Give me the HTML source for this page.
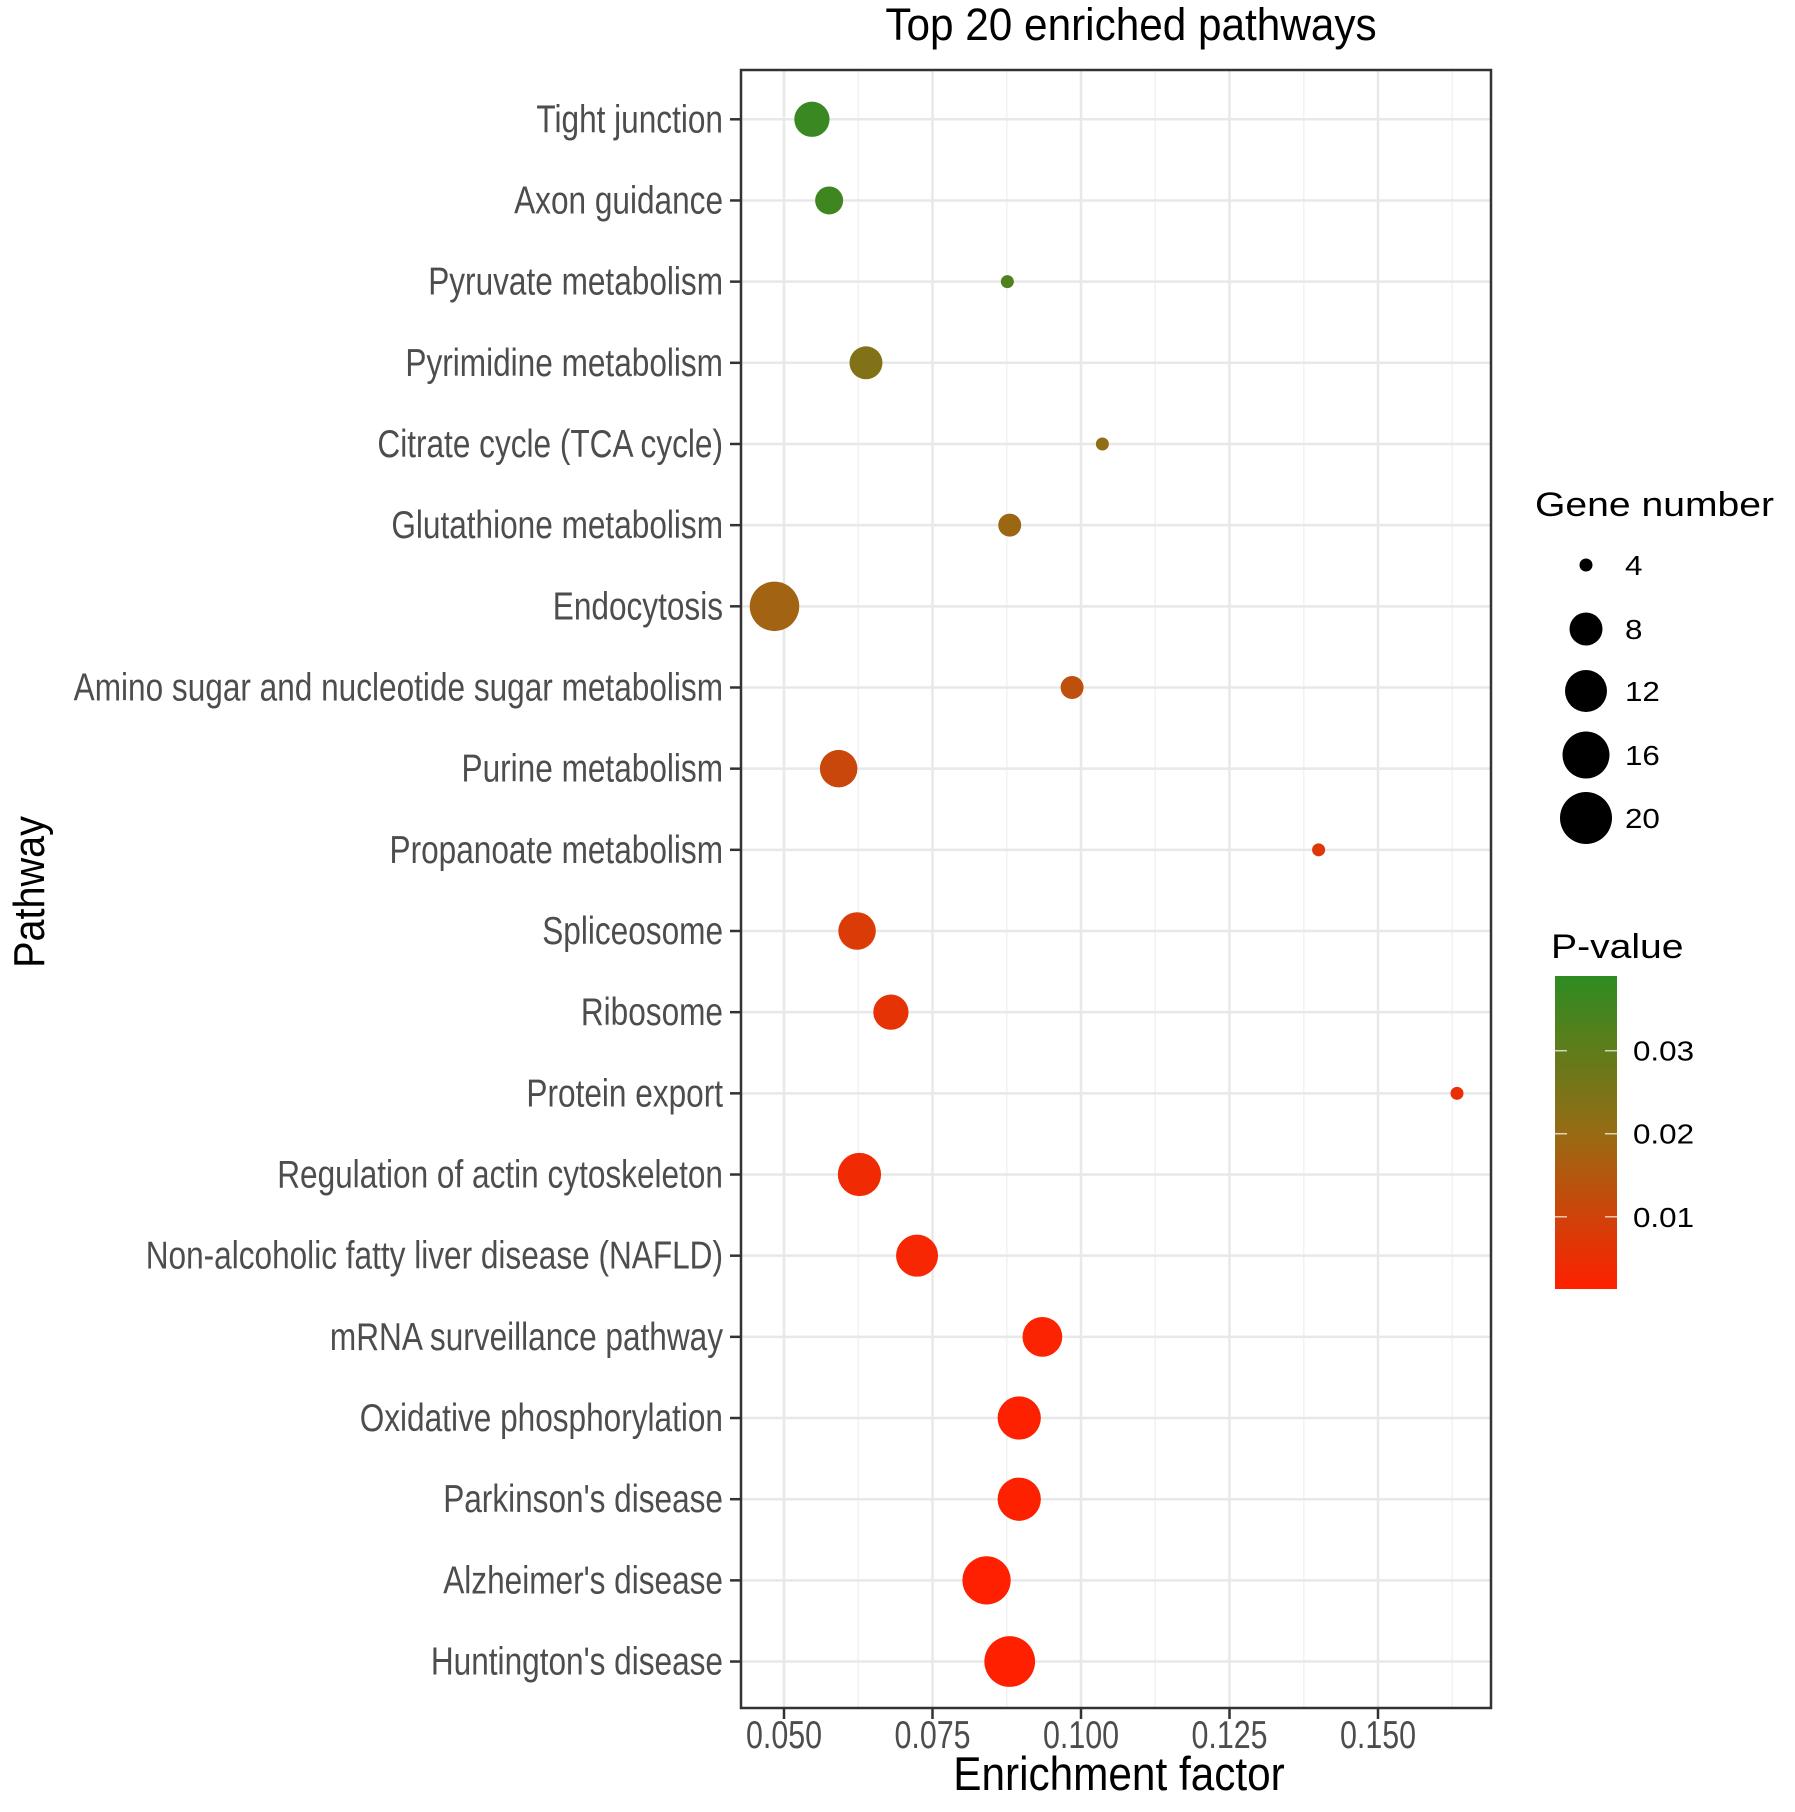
<!DOCTYPE html>
<html><head><meta charset="utf-8"><style>
html,body{margin:0;padding:0;background:#fff;}
svg{display:block;font-family:"Liberation Sans",Arial,sans-serif;}
</style></head><body>
<svg id="chart" width="1795" height="1812" viewBox="0 0 1795 1812">
<rect x="0" y="0" width="1795" height="1812" fill="#fff"/>
<g id="grid"></g>
<g id="points"></g>
<g id="axes"></g>
<g id="legend"></g>
</svg>
<script>
const pathways = ["Tight junction","Axon guidance","Pyruvate metabolism","Pyrimidine metabolism","Citrate cycle (TCA cycle)","Glutathione metabolism","Endocytosis","Amino sugar and nucleotide sugar metabolism","Purine metabolism","Propanoate metabolism","Spliceosome","Ribosome","Protein export","Regulation of actin cytoskeleton","Non-alcoholic fatty liver disease (NAFLD)","mRNA surveillance pathway","Oxidative phosphorylation","Parkinson's disease","Alzheimer's disease","Huntington's disease"];
const enrichment = [0.0547,0.0576,0.0876,0.0638,0.1036,0.0880,0.0484,0.0985,0.0592,0.1400,0.0623,0.0680,0.1633,0.0627,0.0724,0.0935,0.0896,0.0896,0.0841,0.0880];
const geneNumber = [9,7,4,8,4,6,18,6,10,4,10,9,4,13,12,11,13,13,17,19];
const pValue = [0.037,0.036,0.033,0.024,0.021,0.019,0.018,0.013,0.011,0.007,0.008,0.006,0.005,0.004,0.003,0.002,0.0015,0.0015,0.0014,0.0013];
const xTicks = [0.050,0.075,0.100,0.125,0.150];
const xTickLabels = ["0.050","0.075","0.100","0.125","0.150"];
const sizeBreaks = [4,8,12,16,20];
const pBreaks = [0.03,0.02,0.01];
const pBreakLabels = ["0.03","0.02","0.01"];

const NS="http://www.w3.org/2000/svg";
const P={l:741,r:1491,t:70,b:1708};
const xScale=v=>784+(v-0.05)/0.025*148.5;
const yScale=i=>119.3+i*81.17;
const keyR=[6.5,16.5,21,23.5,26];
function rScale(n){
  if(n<=sizeBreaks[0])return keyR[0]*Math.sqrt(n/sizeBreaks[0]);
  for(let i=0;i<sizeBreaks.length-1;i++){
    if(n<=sizeBreaks[i+1]){const t=(n-sizeBreaks[i])/(sizeBreaks[i+1]-sizeBreaks[i]);return keyR[i]+t*(keyR[i+1]-keyR[i]);}
  }
  return keyR[keyR.length-1];
}
const pLo=0.0013,pHi=0.039;
const cLo=[255,32,0],cMid=[150,108,20],cHi=[46,139,34];
function colorP(p){
  let t=Math.max(0,Math.min(1,(p-pLo)/(pHi-pLo)));
  let a,b,u;
  if(t<0.5){a=cLo;b=cMid;u=t/0.5;}else{a=cMid;b=cHi;u=(t-0.5)/0.5;}
  const c=a.map((v,i)=>Math.round(v+(b[i]-v)*u));
  return `rgb(${c[0]},${c[1]},${c[2]})`;
}
function el(tag,attrs,parent){const e=document.createElementNS(NS,tag);for(const k in attrs)e.setAttribute(k,attrs[k]);parent.appendChild(e);return e;}
function text(str,x,y,size,anchor,fill,sx,parent){
  const g=el('g',{transform:`translate(${x},${y}) scale(${sx},1)`},parent);
  const t=el('text',{x:0,y:0,'font-size':size,'text-anchor':anchor,fill:fill},g);
  t.textContent=str;return g;
}
const grid=document.getElementById('grid'),pts=document.getElementById('points'),axes=document.getElementById('axes'),leg=document.getElementById('legend');
el('rect',{x:P.l,y:P.t,width:P.r-P.l,height:P.b-P.t,fill:'#fff'},grid);
for(let v=0.0375;v<=0.17;v+=0.025){const x=xScale(v);if(x>P.l&&x<P.r){const ln=el('line',{x1:x,x2:x,y1:P.t,y2:P.b,stroke:'#f2f2f2','stroke-width':1.5},grid);

}}
xTicks.forEach((v,i)=>{const x=xScale(v);const ln=el('line',{x1:x,x2:x,y1:P.t,y2:P.b,stroke:'#e8e8e8','stroke-width':2.5},grid);


const tk=el('line',{x1:x,x2:x,y1:P.b,y2:P.b+11,stroke:'#333','stroke-width':2.5},axes);


const lb=text(xTickLabels[i],x,1748,39,'middle','#4d4d4d',0.78,axes);

});
pathways.forEach((name,i)=>{const y=yScale(i);
const ln=el('line',{x1:P.l,x2:P.r,y1:y,y2:y,stroke:'#e8e8e8','stroke-width':2.5},grid);


const tk=el('line',{x1:P.l-11,x2:P.l,y1:y,y2:y,stroke:'#333','stroke-width':2.5},axes);


const lb=text(name,723,y+13,39,'end','#4d4d4d',0.81,axes);


const c=el('circle',{cx:xScale(enrichment[i]),cy:y,r:rScale(geneNumber[i]),fill:colorP(pValue[i])},pts);


});
const border=el('rect',{x:P.l,y:P.t,width:P.r-P.l,height:P.b-P.t,fill:'none',stroke:'#333','stroke-width':2.5},axes);


const title=text('Top 20 enriched pathways',1131,40,45,'middle','#000',0.94,axes);


const xt=text('Enrichment factor',1119,1790,47,'middle','#000',0.9,axes);


const ytg=el('g',{transform:'translate(44,892) rotate(-90) scale(0.9,1)'},axes);


const yt=el('text',{x:0,y:0,'font-size':44,'text-anchor':'middle',fill:'#000'},ytg);yt.textContent='Pathway';
const gt=text('Gene  number',1535,516,34,'start','#000',1.15,leg);


const keyY=[565,629,691,755,818];
sizeBreaks.forEach((n,i)=>{const c=el('circle',{cx:1586,cy:keyY[i],r:rScale(n),fill:'#000'},leg);


const t=text(String(n),1625,keyY[i]+10,28,'start','#000',1.12,leg);

});
const pt=text('P-value',1551,958,34,'start','#000',1.15,leg);


const defs=el('defs',{},leg);
const grad=el('linearGradient',{id:'pg',x1:0,y1:1,x2:0,y2:0},defs);
for(let k=0;k<=10;k++){const p=pLo+(pHi-pLo)*k/10;el('stop',{offset:k/10,'stop-color':colorP(p)},grad);}
const CB={x:1555,w:62,t:976,b:1289};
const bar=el('rect',{x:CB.x,y:CB.t,width:CB.w,height:CB.b-CB.t,fill:'url(#pg)'},leg);


const pY=p=>CB.b-(p-pLo)/(pHi-pLo)*(CB.b-CB.t);
pBreaks.forEach((p,i)=>{const y=pY(p);
el('line',{x1:CB.x,x2:CB.x+12,y1:y,y2:y,stroke:'#fff','stroke-width':1.5,'stroke-opacity':0.7},leg);
el('line',{x1:CB.x+CB.w-12,x2:CB.x+CB.w,y1:y,y2:y,stroke:'#fff','stroke-width':1.5,'stroke-opacity':0.7},leg);
const t=text(pBreakLabels[i],1633,y+10,28,'start','#000',1.12,leg);

});
</script>
</body></html>
